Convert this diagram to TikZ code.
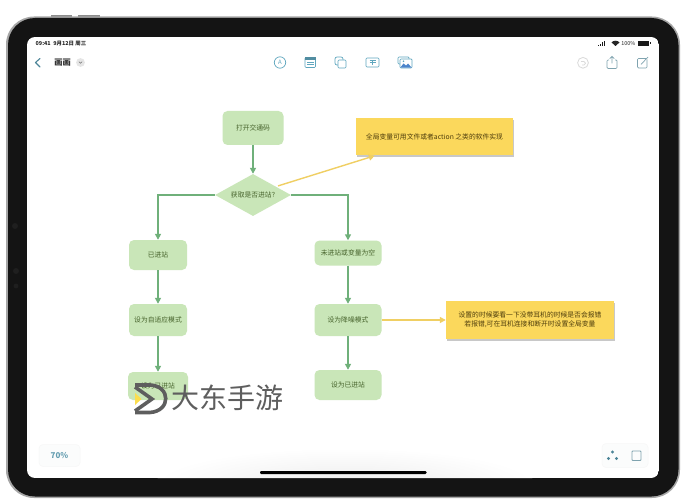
\documentclass[tikz,border=0pt]{standalone}
\usepackage{fontspec}
\setmainfont{Noto Sans CJK SC}
\usetikzlibrary{arrows.meta,shapes.geometric,shadows,calc}
\definecolor{bezel}{HTML}{141414}
\definecolor{sensor}{HTML}{1F1F1F}
\definecolor{boxgreen}{HTML}{C9E6B8}
\definecolor{linegreen}{HTML}{6FB07A}
\definecolor{txtgreen}{HTML}{46622B}
\definecolor{boxyellow}{HTML}{FBD85C}
\definecolor{lineyellow}{HTML}{F0CF63}
\definecolor{txtyellow}{HTML}{4E3D0C}
\definecolor{icon}{HTML}{5FA6BE}
\definecolor{icongray}{HTML}{DADADA}
\definecolor{iconmid}{HTML}{7FA3AF}
\definecolor{wm}{HTML}{5E5E5E}
\definecolor{btnfill}{HTML}{FBFCFC}
\tikzset{
  x=1pt,y=-1pt,
  flowbox/.style={draw=none,fill=boxgreen,rounded corners=5pt,text=txtgreen,font=\fontsize{6.8}{8}\selectfont,inner sep=0pt,anchor=center},
  decision/.style={diamond,aspect=1.8,draw=none,fill=boxgreen,text=txtgreen,font=\fontsize{6.8}{8}\selectfont,inner sep=0pt,minimum width=76pt,minimum height=42pt},
  sticky/.style={draw=none,fill=boxyellow,text=txtyellow,font=\fontsize{6.8}{8.6}\selectfont,inner sep=0pt,align=center,drop shadow={shadow xshift=0.8pt,shadow yshift=-1.6pt,opacity=0.3,fill=black!70}},
  gflow/.style={draw=linegreen,line width=1.6pt,-{Triangle[length=6pt,width=6pt]}},
  yflow/.style={draw=lineyellow,line width=1.4pt,-{Triangle[length=6pt,width=6pt]}},
  tool/.style={draw=icon,line width=0.7pt,fill=none},
  toolbtn/.style={fill=btnfill,draw=black!3,line width=0.5pt,rounded corners=4pt},
}
\begin{document}
\begin{tikzpicture}
\useasboundingbox (0,0) rectangle (686,500);
\fill[white] (0,0) rectangle (686,500);
% side buttons
\fill[black!45] (51,15) rectangle (72,17.5);
\fill[black!45] (78,15) rectangle (100,17.5);
\fill[black!45] (5.5,45) rectangle (7.5,70);
% tablet body
\fill[black!35,rounded corners=28pt] (6,16.5) rectangle (680,498);
\fill[bezel,rounded corners=27pt] (8,18) rectangle (678.5,496.5);
% screen
\begin{scope}
\clip[rounded corners=8pt] (27,37) rectangle (659,478);
\fill[white] (27,37) rectangle (659,478);
\shade[inner color=black!7,outer color=white] (345,484) ellipse (190pt and 36pt);
\end{scope}
% side sensors
\fill[sensor] (15,226) circle (3pt);
\fill[sensor] (16,271) circle (3pt);
\fill[sensor] (16,286) circle (2.4pt);
% status bar
\node[font=\bfseries\fontsize{5.4}{6}\selectfont,text=black!85,anchor=west,inner sep=0pt] (clock) at (35.5,43.5) {09:41\enspace 9月12日 周三};
\node[font=\fontsize{5.4}{6}\selectfont,text=black!85,anchor=east,inner sep=0pt] (battery) at (635.5,43.5) {100\%};
\fill[black!90] (638,41) rectangle (649,46);
\fill[black!90] (649.6,42.5) rectangle (650.6,44.5);
\foreach \h/\xx in {1.4/598,2.4/600,3.6/602,4.8/604}{\fill[black!90] (\xx,46-\h) rectangle (\xx+1.4,46);}
\fill[black!85] (615.5,46) -- (611.5,42.4) .. controls (613.5,40.2) and (617.5,40.2) .. (619.5,42.4) -- cycle;
% nav bar
\draw[icon!80!black,line width=1.1pt,line cap=round,line join=round] (40,58.5) -- (35.5,62.5) -- (40,67);
\node[font=\bfseries\fontsize{8.2}{9}\selectfont,text=black!80,inner sep=0pt] (title) at (62.5,62.5) {画画};
\fill[black!10] (80.5,62.5) circle (4.4pt);
\draw[black!55,line width=0.5pt] (78.9,61.7) -- (80.5,63.3) -- (82.1,61.7);
% toolbar icons
\draw[tool] (280,62.5) circle (5.7pt);
\node[font=\fontsize{6}{7}\selectfont,text=icon,inner sep=0pt] (markup) at (280,62.5) {A};
\draw[tool,rounded corners=1pt] (305,57.5) rectangle (315.5,67.5);
\fill[icon!85!black] (305,57.5) rectangle (315.5,59.6);
\draw[icon,line width=0.4pt] (307,62) -- (313.5,62) (307,64.5) -- (313.5,64.5);
\draw[tool,rounded corners=2pt] (335,57) rectangle (343,65);
\draw[tool,fill=white,rounded corners=1pt] (338,60) rectangle (346,68);
\draw[tool,rounded corners=1pt] (366,58) rectangle (379,67);
\draw[icon,line width=0.5pt] (369.5,60.5) -- (375.5,60.5) (372.5,60.5) -- (372.5,65);
\draw[icon,line width=0.5pt] (369.5,62.5) -- (375.5,62.5);
\draw[tool,rounded corners=1pt] (398,57) rectangle (409,64);
\draw[tool,fill=white,rounded corners=1pt] (400,59) rectangle (412,68);
\fill[icon!80!blue] (400.3,67.7) -- (403.5,63.5) -- (406,65.5) -- (408,63.5) -- (411.7,67.7) -- cycle;
\fill[icon] (403.5,61.3) circle (0.9pt);
\draw[icongray,line width=0.8pt] (583,62.8) circle (5.4pt);
\draw[icongray,line width=0.7pt] (581,61.5) -- (584,61.5) .. controls (586,61.5) and (586,65) .. (584,65) -- (582,65);
\draw[iconmid,line width=0.7pt,rounded corners=1pt] (609,60) -- (607,60) -- (607,68.5) -- (617,68.5) -- (617,60) -- (615,60);
\draw[iconmid,line width=0.7pt] (612,63.5) -- (612,56.5) (609.7,58.6) -- (612,56.3) -- (614.3,58.6);
\draw[iconmid,line width=0.7pt,rounded corners=1pt] (646,58.5) -- (637.5,58.5) -- (637.5,68) -- (647,68) -- (647,59.5);
\draw[iconmid,line width=0.7pt] (641,64.5) -- (648,57);
% flow nodes
\node[flowbox,minimum width=61pt,minimum height=34pt] (open) at (253,128) {打开交通码};
\node[decision] (ask) at (253,195) {获取是否进站?};
\node[flowbox,minimum width=58pt,minimum height=30pt] (inA) at (158,255) {已进站};
\node[flowbox,minimum width=67pt,minimum height=25pt] (outA) at (348,253) {未进站或变量为空};
\node[flowbox,minimum width=58pt,minimum height=32pt] (adapt) at (158,320) {设为自适应模式};
\node[flowbox,minimum width=67pt,minimum height=32pt] (noise) at (348,320) {设为降噪模式};
\node[flowbox,minimum width=60pt,minimum height=28pt] (inB) at (158,386) {设为已进站};
\node[flowbox,minimum width=67pt,minimum height=30pt] (outB) at (348,385) {设为已进站};
\node[sticky,minimum width=157pt,minimum height=37pt] (noteA) at (434.5,136.5) {全局变量可用文件或者action 之类的软件实现};
\node[sticky,minimum width=168pt,minimum height=38pt] (noteB) at (530,320) {设置的时候要看一下没带耳机的时候是否会报错\\若报错,可在耳机连接和断开时设置全局变量};
% connectors
\draw[gflow] (open) -- (ask);
\draw[gflow] (ask.west) -| (inA.north);
\draw[gflow] (ask.east) -| (outA.north);
\draw[gflow] (inA) -- (adapt);
\draw[gflow] (adapt) -- (inB);
\draw[gflow] (outA) -- (noise);
\draw[gflow] (noise) -- (outB);
\coordinate (yStart) at ($(ask.north east)+(6,1.5)$);
\coordinate (yEnd) at ($(noteA.south west)+(19,0.5)$);
\draw[yflow] (yStart) -- (yEnd);
\draw[yflow] (noise) -- (noteB);
% watermark
\draw[wm,line width=3.6pt,line join=miter] (135,385) -- (150,385) .. controls (171,386) and (171,411) .. (150,412.5) -- (135,412.5);
\draw[wm,line width=3.6pt,line join=miter] (135,387) -- (152,399) -- (135,411);
\fill[boxyellow!85!yellow] (135,393) -- (141.5,399) -- (135,405) -- cycle;
\node[font=\fontsize{28}{30}\selectfont,text=wm,inner sep=0pt] (brand) at (227,398) {大东手游};
% bottom controls
\node[toolbtn,minimum width=41pt,minimum height=22pt,inner sep=0pt,font=\bfseries\fontsize{8}{9}\selectfont,text=icon!80!gray] (zoomlevel) at (59.5,455.5) {70\%};
\node[toolbtn,minimum width=46pt,minimum height=24pt,inner sep=0pt] (viewbtns) at (625,455.5) {};
\fill[icon!80!black] (612.5,452) circle (1.7pt) (608.5,458.5) circle (1.7pt) (616.5,458.5) circle (1.7pt);
\draw[iconmid,line width=0.8pt,rounded corners=0.8pt] (632,451) rectangle (641,460.5);
% home bar
\fill[black,rounded corners=1.2pt] (260,471) rectangle (426.5,474);
\end{tikzpicture}
\end{document}
